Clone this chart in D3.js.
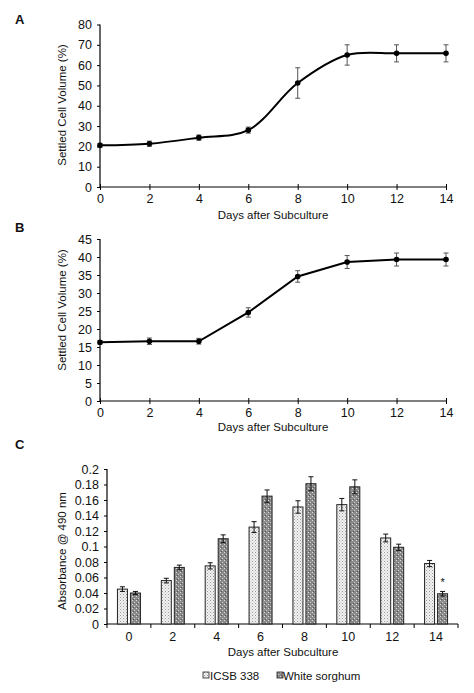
<!DOCTYPE html>
<html><head><meta charset="utf-8">
<script src="https://cdn.jsdelivr.net/npm/d3@7"></script>
<style>body{margin:0;background:#fff}svg{display:block}text{font-family:"Liberation Sans",Arial,sans-serif;fill:#111}</style>
</head><body>
<script>
const days = [0,2,4,6,8,10,12,14];
const scvA = [20.5,21.3,24.3,28.0,51.2,65.0,65.8,65.8];
const errA = [1.0,1.3,1.3,1.5,7.5,5.0,4.2,4.2];
const scvB = [16.3,16.6,16.6,24.6,34.6,38.6,39.3,39.3];
const errB = [0.5,0.9,0.8,1.3,1.6,1.8,1.8,1.8];
const icsb = [0.045,0.056,0.075,0.125,0.151,0.154,0.111,0.078];
const icsbErr = [0.003,0.003,0.004,0.007,0.008,0.008,0.005,0.004];
const white = [0.040,0.073,0.110,0.165,0.181,0.177,0.099,0.039];
const whiteErr = [0.002,0.003,0.005,0.008,0.009,0.009,0.004,0.003];
const seriesNames = ["ICSB 338","White sorghum"];
const ticksA = [0,10,20,30,40,50,60,70,80];
const ticksB = [0,5,10,15,20,25,30,35,40,45];
const ticksC = [0,0.02,0.04,0.06,0.08,0.1,0.12,0.14,0.16,0.18,0.2];

const W=474,H=693;
const svg=d3.select("body").append("svg").attr("width",W).attr("height",H);
const defs=svg.append("defs");
// patterns
const p1=defs.append("pattern").attr("id","pIcsb").attr("patternUnits","userSpaceOnUse").attr("width",3).attr("height",3);
p1.append("rect").attr("width",3).attr("height",3).attr("fill","#f2f2f2");
p1.append("rect").attr("x",0).attr("y",0).attr("width",1).attr("height",1).attr("fill","#9a9a9a");
p1.append("rect").attr("x",1.5).attr("y",1.5).attr("width",1).attr("height",1).attr("fill","#b5b5b5");
const p2=defs.append("pattern").attr("id","pWhite").attr("patternUnits","userSpaceOnUse").attr("width",4).attr("height",4);
p2.append("rect").attr("width",4).attr("height",4).attr("fill","#8a8a8a");
p2.append("rect").attr("x",0).attr("y",0).attr("width",1).attr("height",1).attr("fill","#d8d8d8");
p2.append("rect").attr("x",2).attr("y",2).attr("width",1).attr("height",1).attr("fill","#d0d0d0");
p2.append("rect").attr("x",1).attr("y",3).attr("width",1).attr("height",1).attr("fill","#555");

function panelLabel(t,x,y){svg.append("text").attr("x",x).attr("y",y).attr("font-size",13).attr("font-weight","bold").text(t);}
function yTitle(t,x,y){svg.append("text").attr("transform",`translate(${x},${y}) rotate(-90)`).attr("text-anchor","middle").attr("font-size",11.5).text(t);}
function xTitle(t,x,y){svg.append("text").attr("x",x).attr("y",y).attr("text-anchor","middle").attr("font-size",11.5).text(t);}

function linePanel(vals,errs,yMax,yTicks,y0,y1,curve,label,labelY,titleY,yLabCenter){
  const x=d3.scaleLinear().domain([0,14]).range([100,446]);
  const y=d3.scaleLinear().domain([0,yMax]).range([y0,y1]);
  const gx=svg.append("g").attr("transform",`translate(0,${y0})`)
    .call(d3.axisBottom(x).tickValues(days).tickSize(3).tickPadding(4));
  gx.selectAll(".tick line").attr("y1",-3).attr("y2",3);
  const gy=svg.append("g").attr("transform",`translate(100,0)`)
    .call(d3.axisLeft(y).tickValues(yTicks).tickSize(3).tickPadding(5));
  [gx,gy].forEach(g=>{g.select(".domain").attr("stroke","#000").attr("stroke-width",1.2);
    g.selectAll(".tick line").attr("stroke","#000");
    g.selectAll("text").attr("font-size",12.5).attr("font-family","Liberation Sans, Arial, sans-serif").attr("fill","#111");});
  gx.select(".domain").attr("d",`M100,0H446`);
  gy.select(".domain").attr("d",`M0,${y1}V${y0}`);
  const data=days.map((d,i)=>({d,v:vals[i],e:errs[i]}));
  const eb=svg.append("g").attr("stroke","#555").attr("stroke-width",1);
  data.forEach(p=>{
    const cx=x(p.d),t=y(p.v+p.e),b=y(p.v-p.e);
    eb.append("line").attr("x1",cx).attr("x2",cx).attr("y1",t).attr("y2",b);
    eb.append("line").attr("x1",cx-2.5).attr("x2",cx+2.5).attr("y1",t).attr("y2",t);
    eb.append("line").attr("x1",cx-2.5).attr("x2",cx+2.5).attr("y1",b).attr("y2",b);
  });
  svg.append("path").datum(data).attr("fill","none").attr("stroke","#000").attr("stroke-width",2)
    .attr("d",d3.line().x(p=>x(p.d)).y(p=>y(p.v)).curve(curve));
  svg.append("g").selectAll("circle").data(data).join("circle")
    .attr("cx",p=>x(p.d)).attr("cy",p=>y(p.v)).attr("r",2.8).attr("fill","#000");
  panelLabel(label,15,labelY);
  xTitle("Days after Subculture",273,titleY);
  yTitle("Settled Cell Volume (%)",66,yLabCenter);
}
linePanel(scvA,errA,80,ticksA,187,24.5,d3.curveCatmullRom.alpha(0.5),"A",24,219,105);
linePanel(scvB,errB,45,ticksB,401,239,d3.curveLinear,"B",232,431,310);

// Panel C
const xc=d3.scaleBand().domain(days).range([107,458]);
const yc=d3.scaleLinear().domain([0,0.2]).range([624,469]);
const gxc=svg.append("g").attr("transform","translate(0,624)")
  .call(d3.axisBottom(xc).tickSize(0).tickPadding(8));
gxc.selectAll("text").attr("font-size",12.5).attr("font-family","Liberation Sans, Arial, sans-serif").attr("fill","#111");
gxc.select(".domain").attr("d","M107,0H458").attr("stroke","#000").attr("stroke-width",1.2);
days.concat([null]).forEach((d,i)=>{
  const bx=107+i*xc.step();
  gxc.append("line").attr("x1",bx).attr("x2",bx).attr("y1",0).attr("y2",4).attr("stroke","#000");
});
const gyc=svg.append("g").attr("transform","translate(107,0)")
  .call(d3.axisLeft(yc).tickValues(ticksC).tickSize(3).tickPadding(5).tickFormat(d=>d3.format("~g")(d)));
gyc.select(".domain").attr("d","M0,469V624").attr("stroke","#000").attr("stroke-width",1.2);
gyc.selectAll("text").attr("font-size",12.5).attr("font-family","Liberation Sans, Arial, sans-serif").attr("fill","#111");
const bw=10,gap=3;
const barData=[];
days.forEach((d,i)=>{
  barData.push({d,s:0,v:icsb[i],e:icsbErr[i]});
  barData.push({d,s:1,v:white[i],e:whiteErr[i]});
});
const bx=p=>xc(p.d)+xc.bandwidth()/2+(p.s===0?-(bw+gap/2):gap/2);
svg.append("g").selectAll("rect").data(barData).join("rect")
  .attr("x",bx).attr("y",p=>yc(p.v)).attr("width",bw).attr("height",p=>624-yc(p.v))
  .attr("fill",p=>p.s===0?"url(#pIcsb)":"url(#pWhite)").attr("stroke","#222").attr("stroke-width",1);
const ebc=svg.append("g").attr("stroke","#111").attr("stroke-width",1);
barData.forEach(p=>{
  const cx=bx(p)+bw/2,t=yc(p.v+p.e),b=yc(p.v-p.e);
  ebc.append("line").attr("x1",cx).attr("x2",cx).attr("y1",t).attr("y2",b);
  ebc.append("line").attr("x1",cx-2.5).attr("x2",cx+2.5).attr("y1",t).attr("y2",t);
  ebc.append("line").attr("x1",cx-2.5).attr("x2",cx+2.5).attr("y1",b).attr("y2",b);
});
// asterisk on day 14 White sorghum
const last=barData[barData.length-1];
svg.append("text").attr("x",bx(last)+bw/2).attr("y",yc(last.v+last.e)-5).attr("text-anchor","middle").attr("font-size",11).text("*");
panelLabel("C",15,449);
xTitle("Days after Subculture",283,656);
yTitle("Absorbance @ 490 nm",66,551);
// legend
const leg=svg.append("g");
[[203,"url(#pIcsb)",seriesNames[0],210],[277,"url(#pWhite)",seriesNames[1],283]].forEach(([lx,f,t,tx])=>{
  leg.append("rect").attr("x",lx).attr("y",672).attr("width",6).attr("height",6).attr("fill",f).attr("stroke","#222").attr("stroke-width",0.8);
  leg.append("text").attr("x",tx).attr("y",680).attr("font-size",11.5).text(t);
});
</script>
</body></html>
